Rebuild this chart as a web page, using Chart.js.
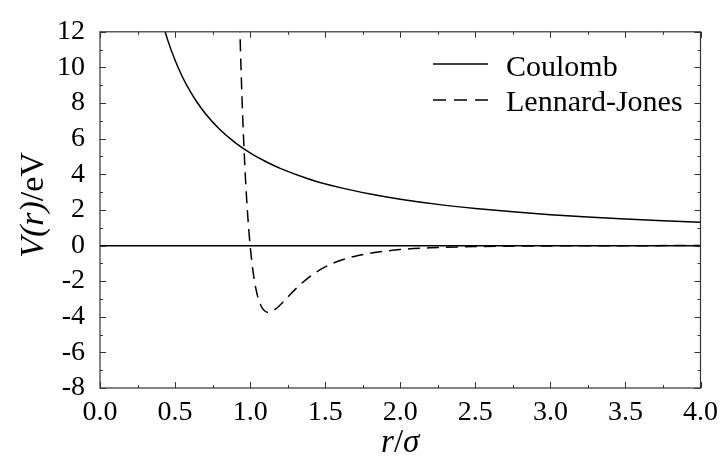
<!DOCTYPE html>
<html>
<head>
<meta charset="utf-8">
<script src="https://cdn.jsdelivr.net/npm/chart.js@4.4.0/dist/chart.umd.min.js"></script>
<style>
  html, body { margin: 0; padding: 0; background: #fff; }
  #wrap { width: 726px; height: 461px; }
</style>
</head>
<body>
<div id="wrap"><canvas id="potChart" width="726" height="461"></canvas></div>
<script>
// Coulomb curve
const coulombR = [0.40, 0.45, 0.50, 0.55, 0.60, 0.65, 0.70, 0.80, 0.90, 1.00, 1.10, 1.20, 1.40, 1.60, 1.80, 2.00, 2.25, 2.50, 2.75, 3.00, 3.25, 3.50, 3.75, 4.00];
const coulombV = [13.0, 11.56, 10.4, 9.45, 8.67, 8.0, 7.43, 6.5, 5.78, 5.2, 4.73, 4.33, 3.71, 3.25, 2.89, 2.6, 2.31, 2.08, 1.89, 1.73, 1.6, 1.49, 1.39, 1.3];

// Lennard-Jones curve
const ljR = [0.93, 0.94, 0.95, 0.96, 0.97, 0.98, 0.99, 1.00, 1.02, 1.04, 1.06, 1.08, 1.10, 1.12, 1.15, 1.20, 1.25, 1.30, 1.40, 1.50, 1.60, 1.70, 1.80, 2.00, 2.20, 2.50, 3.00, 3.50, 4.00];
const ljV = [12.65, 9.78, 7.35, 5.32, 3.61, 2.18, 0.99, 0, -1.49, -2.49, -3.12, -3.50, -3.69, -3.75, -3.68, -3.34, -2.90, -2.46, -1.73, -1.20, -0.84, -0.60, -0.43, -0.23, -0.13, -0.06, -0.02, -0.01, 0];

const xTickLabels = ['0.0', '0.5', '1.0', '1.5', '2.0', '2.5', '3.0', '3.5', '4.0'];
const yTickLabels = ['-8', '-6', '-4', '-2', '0', '2', '4', '6', '8', '10', '12'];
const seriesNames = ['Coulomb', 'Lennard-Jones'];

const SERIF = '"Liberation Serif", "DejaVu Serif", serif';

function toPoints(xs, ys) {
    return xs.map((x, i) => ({ x: x, y: ys[i] }));
}

// inward ticks on all four sides, major + minor
const frameTicks = {
    id: 'frameTicks',
    afterDraw(chart) {
        const ctx = chart.ctx;
        const a = chart.chartArea;
        const xs = chart.scales.x;
        const ys = chart.scales.y;
        ctx.save();
        ctx.strokeStyle = '#333';
        ctx.lineWidth = 1.2;
        ctx.strokeRect(a.left, a.top, a.right - a.left, a.bottom - a.top);
        ctx.lineWidth = 1;
        ctx.beginPath();
        for (let v = 0; v <= 4.0001; v += 0.25) {
            const px = Math.round(xs.getPixelForValue(v)) + 0.5;
            const len = (Math.abs(v * 2 - Math.round(v * 2)) < 0.01) ? 6 : 3;
            ctx.moveTo(px, a.bottom); ctx.lineTo(px, a.bottom - len);
            ctx.moveTo(px, a.top); ctx.lineTo(px, a.top + len);
        }
        for (let v = -8; v <= 12; v += 1) {
            const py = Math.round(ys.getPixelForValue(v)) + 0.5;
            const len = (v % 2 === 0) ? 6 : 3;
            ctx.moveTo(a.left, py); ctx.lineTo(a.left + len, py);
            ctx.moveTo(a.right, py); ctx.lineTo(a.right - len, py);
        }
        ctx.stroke();

        // legend
        const lx = 433, lx2 = 488;
        const rows = [64, 100];
        ctx.strokeStyle = '#000';
        ctx.lineWidth = 1.5;
        rows.forEach((y, i) => {
            ctx.setLineDash(i === 0 ? [] : [13, 8]);
            ctx.beginPath();
            ctx.moveTo(lx, y); ctx.lineTo(lx2, y);
            ctx.stroke();
        });
        ctx.setLineDash([]);
        ctx.fillStyle = '#000';
        ctx.font = '30px ' + SERIF;
        ctx.textBaseline = 'alphabetic';
        ctx.textAlign = 'left';
        ctx.fillText(seriesNames[0], 506, 76);
        ctx.fillText(seriesNames[1], 506, 111);

        // x axis title: r/σ
        const xt = [['italic 33px ' + SERIF, 'r'], ['33px ' + SERIF, '/'], ['italic 33px ' + SERIF, 'σ']];
        let w = 0;
        xt.forEach(p => { ctx.font = p[0]; w += ctx.measureText(p[1]).width; });
        let cx = (a.left + a.right) / 2 - w / 2;
        xt.forEach(p => { ctx.font = p[0]; ctx.fillText(p[1], cx, 452); cx += ctx.measureText(p[1]).width; });

        // y axis title: V(r)/eV
        const yt = [['italic 34px ' + SERIF, 'V(r)'], ['34px ' + SERIF, '/eV']];
        w = 0;
        yt.forEach(p => { ctx.font = p[0]; w += ctx.measureText(p[1]).width; });
        ctx.translate(43, 205);
        ctx.rotate(-Math.PI / 2);
        cx = -w / 2;
        yt.forEach(p => { ctx.font = p[0]; ctx.fillText(p[1], cx, 0); cx += ctx.measureText(p[1]).width; });
        ctx.restore();
    }
};

new Chart(document.getElementById('potChart'), {
    type: 'scatter',
    data: {
        datasets: [
            {
                label: seriesNames[0],
                data: toPoints(coulombR, coulombV),
                showLine: true,
                borderColor: '#000',
                borderWidth: 1.5,
                pointRadius: 0,
                cubicInterpolationMode: 'monotone'
            },
            {
                label: seriesNames[1],
                data: toPoints(ljR, ljV),
                showLine: true,
                borderColor: '#000',
                borderWidth: 1.5,
                borderDash: [12, 7],
                pointRadius: 0,
                cubicInterpolationMode: 'monotone'
            }
        ]
    },
    options: {
        responsive: false,
        animation: false,
        layout: { padding: { top: 25, right: 21, left: 0, bottom: 0 } },
        plugins: {
            legend: { display: false },
            tooltip: { enabled: false }
        },
        scales: {
            x: {
                type: 'linear',
                min: 0,
                max: 4,
                afterFit(scale) { scale.height = 73; },
                afterBuildTicks(scale) {
                    scale.ticks = xTickLabels.map(t => ({ value: parseFloat(t) }));
                },
                ticks: {
                    color: '#000',
                    padding: 8,
                    autoSkip: false,
                    font: { family: SERIF, size: 28 },
                    maxRotation: 0,
                    callback: (v, i) => xTickLabels[i]
                },
                grid: { display: false, drawTicks: false },
                border: { display: false }
            },
            y: {
                type: 'linear',
                min: -8,
                max: 12,
                afterFit(scale) { scale.width = 100; },
                afterBuildTicks(scale) {
                    scale.ticks = yTickLabels.map(t => ({ value: parseFloat(t) }));
                },
                ticks: {
                    color: '#000',
                    padding: 15,
                    autoSkip: false,
                    font: { family: SERIF, size: 28 },
                    callback: (v, i) => yTickLabels[i]
                },
                grid: {
                    drawTicks: false,
                    lineWidth: 1.5,
                    color: ctx => (ctx.tick && ctx.tick.value === 0) ? '#000' : 'rgba(0,0,0,0)'
                },
                border: { display: false }
            }
        }
    },
    plugins: [frameTicks]
});
</script>
</body>
</html>
